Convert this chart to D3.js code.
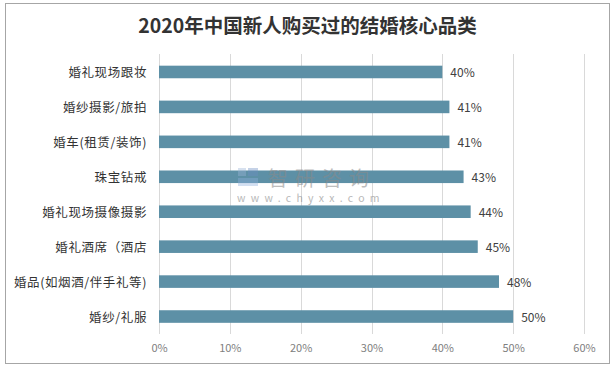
<!DOCTYPE html>
<html><head><meta charset="utf-8">
<script src="https://cdn.jsdelivr.net/npm/d3@7/dist/d3.min.js"></script>
<style>body{margin:0;background:#fff;}svg{display:block;}</style>
</head><body><svg id="c" width="615" height="369"></svg>
<script>
const title = "2020年中国新人购买过的结婚核心品类";
const categories = ["婚礼现场跟妆","婚纱摄影/旅拍","婚车(租赁/装饰)","珠宝钻戒","婚礼现场摄像摄影","婚礼酒席（酒店","婚品(如烟酒/伴手礼等)","婚纱/礼服"];
const values = [0.40,0.41,0.41,0.43,0.44,0.45,0.48,0.50];
const tickValues = [0,0.1,0.2,0.3,0.4,0.5,0.6];

const svg = d3.select("#c");
const font = "'Microsoft YaHei','Noto Sans CJK SC',sans-serif";
svg.append("rect").attr("x",5.5).attr("y",3.5).attr("width",604).attr("height",360)
  .attr("fill","#fff").attr("stroke","#a6a6a6").attr("stroke-width",1);

svg.append("text").attr("x",307.5).attr("y",33).attr("text-anchor","middle")
  .attr("font-family",font).attr("font-weight","bold").attr("font-size",19.5)
  .attr("fill","#333").text(title);

const x = d3.scaleLinear().domain([0,0.6]).range([159,584]);
const y = d3.scaleBand().domain(categories).range([54.5,334]).paddingInner(0.64).paddingOuter(0.32);

const g = svg.append("g");
g.selectAll(".grid").data(tickValues).join("line")
  .attr("x1",d=>Math.round(x(d))+0.5).attr("x2",d=>Math.round(x(d))+0.5)
  .attr("y1",54).attr("y2",334).attr("stroke","#d9d9d9").attr("stroke-width",1);

const axis = d3.axisBottom(x).tickValues(tickValues).tickFormat(d3.format(".0%")).tickSize(0).tickPadding(0);
const ax = svg.append("g").attr("transform","translate(0,344)").call(axis);
ax.select(".domain").remove();
ax.selectAll("text").attr("font-family",font).attr("font-size",11).attr("fill","#808080");

g.selectAll(".bar").data(values).join("rect")
  .attr("x",x(0)).attr("y",(d,i)=>y(categories[i]))
  .attr("width",d=>x(d)-x(0)).attr("height",y.bandwidth())
  .attr("fill","#5d90a6");

g.selectAll(".vl").data(values).join("text")
  .attr("x",d=>x(d)+8).attr("y",(d,i)=>y(categories[i])+y.bandwidth()/2+5)
  .attr("font-family",font).attr("font-size",12).attr("fill","#404040")
  .text(d=>d3.format(".0%")(d));

g.selectAll(".cl").data(categories).join("text")
  .attr("x",147).attr("y",d=>y(d)+y.bandwidth()/2+5).attr("text-anchor","end")
  .attr("font-family",font).attr("font-size",12.5).attr("letter-spacing",0.6).attr("fill","#333")
  .text(d=>d);

// watermark
const wm = svg.append("g");
wm.append("rect").attr("x",238).attr("y",168).attr("width",8).attr("height",8).attr("fill","#9bb3d6").attr("opacity",0.4);
wm.append("rect").attr("x",248).attr("y",168).attr("width",10).attr("height",8).attr("fill","#6f8fc4").attr("opacity",0.4);
wm.append("rect").attr("x",238).attr("y",178).attr("width",20).attr("height",8).attr("fill","#8fb0dc").attr("opacity",0.4);
wm.append("text").attr("x",268).attr("y",186).attr("font-family",font).attr("font-size",20)
  .attr("letter-spacing",7).attr("fill","#8a8a8a").attr("opacity",0.55).text("智研咨询");
wm.append("text").attr("x",237).attr("y",202).attr("font-family",font).attr("font-size",10.5)
  .attr("letter-spacing",5.3).attr("fill","#8a8a8a").attr("opacity",0.6).text("www.chyxx.com");
</script></body></html>
